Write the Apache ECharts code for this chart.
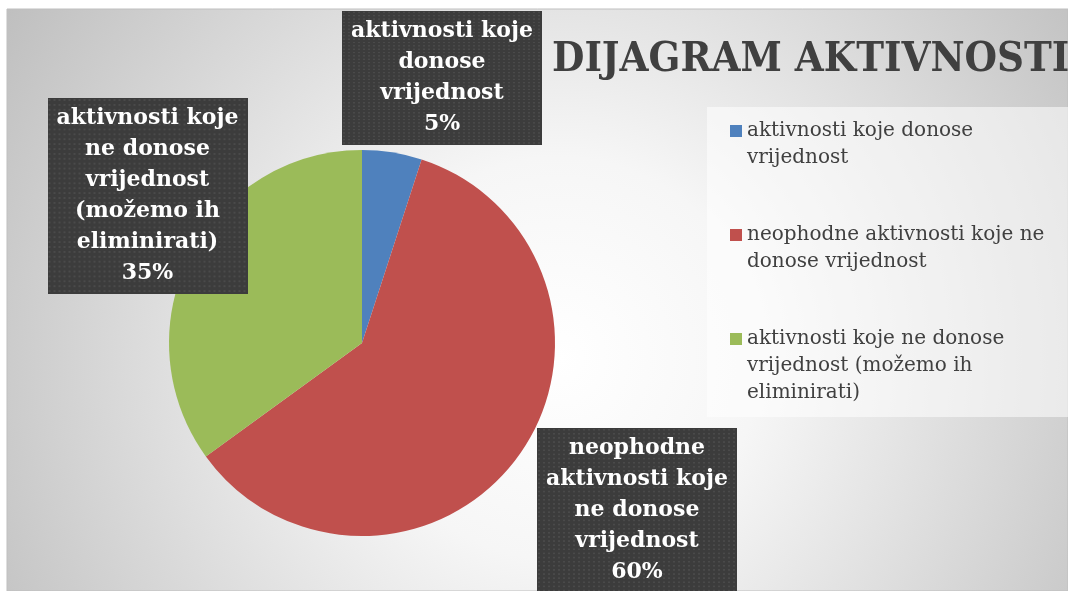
<!DOCTYPE html>
<html><head><meta charset="utf-8">
<script src="https://cdn.jsdelivr.net/npm/echarts@6/dist/echarts.min.js"></script>
<style>html,body{margin:0;padding:0;background:#fff;overflow:hidden}#c{width:1068px;height:591px}</style>
</head><body><div id="c"></div>
<script>
// ---- data ----
const categories = [
  'aktivnosti koje donose vrijednost',
  'neophodne aktivnosti koje ne donose vrijednost',
  'aktivnosti koje ne donose vrijednost (možemo ih eliminirati)'
];
const values = [5, 60, 35];
const colors = ['#4F81BD', '#C0504D', '#9BBB59'];
const titleText = 'DIJAGRAM AKTIVNOSTI';
// data-label wording, wrapped as in the picture
const labelTexts = [
  'aktivnosti koje\ndonose\nvrijednost',
  'neophodne\naktivnosti koje\nne donose\nvrijednost',
  'aktivnosti koje\nne donose\nvrijednost\n(možemo ih\neliminirati)'
];

// ---- styling / layout ----
const legendLines = [2, 2, 3];
const labelBoxes = [ {x: 442, y: 11}, {x: 637, y: 428}, {x: 147.5, y: 98} ];

// dotted texture for label boxes
const tex = document.createElement('canvas');
tex.width = 200; tex.height = 200;
const g = tex.getContext('2d');
g.fillStyle = '#3c3c3c'; g.fillRect(0, 0, 200, 200);
g.fillStyle = '#4a4a4a';
for (let yy = 1; yy < 200; yy += 5) for (let xx = 1; xx < 200; xx += 5) g.fillRect(xx, yy, 2, 2);

const chart = echarts.init(document.getElementById('c'), null, {renderer: 'canvas'});
const LH = 27;
chart.setOption({
  animation: false,
  graphic: [
    { type: 'rect', z: -10, silent: true,
      shape: {x: 7, y: 9, width: 1061, height: 582},
      style: { fill: new echarts.graphic.RadialGradient(0.52, 0.6, 1.15, [
        {offset: 0, color: '#ffffff'},
        {offset: 0.3, color: '#f6f6f6'},
        {offset: 1, color: '#bdbdbd'}
      ]), stroke: '#bfbfbf', lineWidth: 1 } },
    { type: 'rect', z: -9, silent: true,
      shape: {x: 707, y: 107, width: 361, height: 310},
      style: { fill: 'rgba(255,255,255,0.55)' } }
  ],
  title: {
    text: titleText, left: 552, top: 39.5, padding: 0,
    textStyle: { fontFamily: '"DejaVu Serif Condensed", "DejaVu Serif", serif', fontWeight: 'bold', fontSize: 41.5, color: '#404040' }
  },
  legend: {
    orient: 'vertical', left: 730, top: 131 - 67.5, padding: 0,
    itemWidth: 12, itemHeight: 12, itemGap: -31, icon: 'rect',
    data: categories,
    formatter: function (name) {
      const i = categories.indexOf(name);
      return '\n\n' + name + '\n '.repeat(3 - legendLines[i]);
    },
    textStyle: { fontFamily: '"DejaVu Serif", serif', fontSize: 20, color: '#404040', lineHeight: LH, width: 310, overflow: 'break' }
  },
  series: [{
    type: 'pie',
    center: [362, 343], radius: 193, startAngle: 90, clockwise: true,
    color: colors,
    itemStyle: { borderWidth: 0 },
    data: categories.map((n, i) => ({ name: n, value: values[i] })),
    labelLine: { show: false },
    label: {
      show: true, position: 'outside',
      formatter: function (p) { return labelTexts[p.dataIndex] + '\n' + Math.round(p.percent) + '%'; },
      fontFamily: '"DejaVu Serif", serif', fontWeight: 'bold', fontSize: 22, color: '#ffffff',
      lineHeight: 31, width: 190, overflow: 'none', align: 'center',
      padding: [5, 5, 5, 5],
      backgroundColor: { image: tex },
      shadowColor: 'rgba(0,0,0,0.4)', shadowBlur: 6, shadowOffsetX: 2, shadowOffsetY: 3
    },
    labelLayout: function (p) {
      const b = labelBoxes[p.dataIndex];
      return { x: b.x, y: b.y, align: 'center', verticalAlign: 'top' };
    },
    emphasis: { disabled: true }
  }]
});
</script></body></html>
